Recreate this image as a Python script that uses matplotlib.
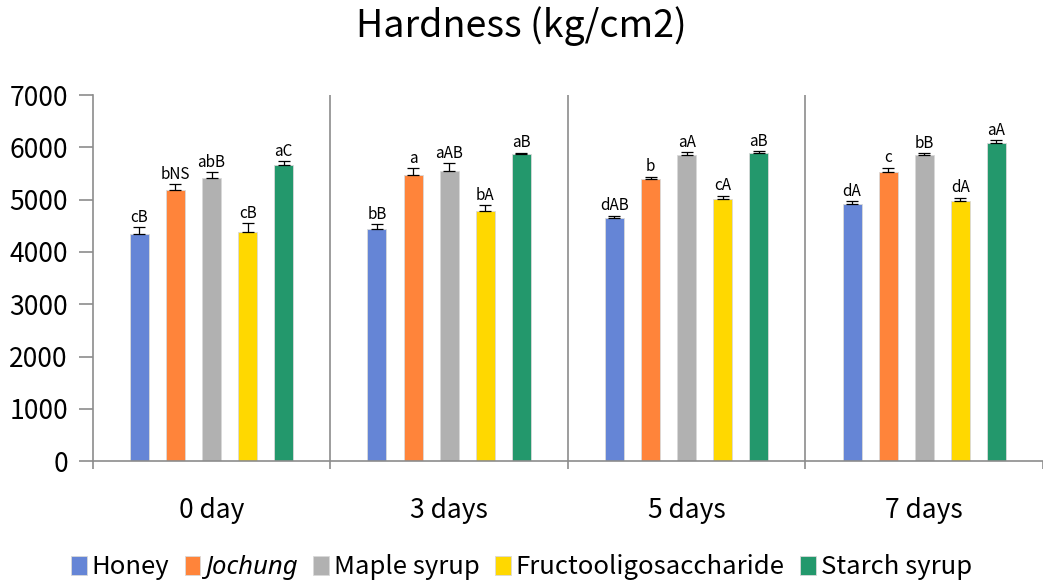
import matplotlib.pyplot as plt
import numpy as np

plt.rcParams["font.family"] = ["Noto Sans CJK KR", "DejaVu Sans"]

DAYS = ["0 day", "3 days", "5 days", "7 days"]
SERIES = ["Honey", "Jochung", "Maple syrup", "Fructooligosaccharide", "Starch syrup"]
COLORS = ["#6585D6", "#FF843A", "#B1B1B1", "#FFD800", "#23986C"]

# hardness values per series, across the four days
HONEY = [4335, 4443, 4641, 4909]
JOCHUNG = [5190, 5469, 5387, 5527]
MAPLE = [5412, 5546, 5858, 5846]
FOS = [4386, 4781, 5004, 4972]
STARCH = [5661, 5865, 5897, 6076]

HONEY_ERR = [133, 83, 50, 64]
JOCHUNG_ERR = [100, 127, 50, 83]
MAPLE_ERR = [120, 146, 45, 38]
FOS_ERR = [160, 108, 70, 64]
STARCH_ERR = [70, 32, 32, 57]

HONEY_LBL = ["cB", "bB", "dAB", "dA"]
JOCHUNG_LBL = ["bNS", "a", "b", "c"]
MAPLE_LBL = ["abB", "aAB", "aA", "bB"]
FOS_LBL = ["cB", "bA", "cA", "dA"]
STARCH_LBL = ["aC", "aB", "aB", "aA"]

values = [HONEY, JOCHUNG, MAPLE, FOS, STARCH]
errors = [HONEY_ERR, JOCHUNG_ERR, MAPLE_ERR, FOS_ERR, STARCH_ERR]
labels = [HONEY_LBL, JOCHUNG_LBL, MAPLE_LBL, FOS_LBL, STARCH_LBL]

fig = plt.figure(figsize=(10.43, 5.83), dpi=100)
ax = fig.add_axes([0.089, 0.209, 0.911, 0.628])

x = np.arange(len(DAYS))
width = 0.08
step = 0.152
grey = "#8C8C8C"

for i, (name, vals, errs, lbls, col) in enumerate(
    zip(SERIES, values, errors, labels, COLORS)
):
    pos = x + (i - 2) * step
    ax.bar(pos, vals, width, color=col, edgecolor="#D9D9D9", linewidth=0.6,
           label=name, zorder=2)
    ax.errorbar(pos, vals, yerr=[np.zeros(len(vals)), errs], fmt="none",
                ecolor="black", elinewidth=0.9, capsize=4.5, capthick=0.9, zorder=3)
    for p, v, e, t in zip(pos, vals, errs, lbls):
        ax.text(p, v + e + 25, t, ha="center", va="bottom", fontsize=11)

# group dividers
for b in x[1:] - 0.5:
    ax.axvline(b, color=grey, linewidth=1.2, zorder=1)

ax.set_xlim(-0.5, len(DAYS) - 0.5)
ax.set_ylim(0, 7000)
ax.set_yticks(np.arange(0, 7001, 1000))
ax.set_xticks(x)
ax.set_xticklabels(DAYS, fontsize=19)
ax.set_xticks(np.arange(-0.5, len(DAYS) - 0.4, 1.0), minor=True)
ax.tick_params(axis="x", which="major", length=0, pad=26)
ax.tick_params(axis="x", which="minor", length=6, color=grey, width=1.2)
ax.tick_params(axis="y", labelsize=19, length=10, color=grey, width=1.2, pad=8)

for s in ["top", "right"]:
    ax.spines[s].set_visible(False)
for s in ["left", "bottom"]:
    ax.spines[s].set_color(grey)
    ax.spines[s].set_linewidth(1.2)

fig.text(0.5, 0.955, "Hardness (kg/cm2)", ha="center", va="center", fontsize=27)

leg = fig.legend(loc="center", bbox_to_anchor=(0.5, 0.027), ncol=5, frameon=False,
                 fontsize=18.5, handlelength=0.6, handleheight=0.8, handletextpad=0.2,
                 columnspacing=0.6)
# Jochung is written in italics
leg.get_texts()[1].set_fontfamily("Noto Sans")
leg.get_texts()[1].set_fontstyle("italic")

fig.savefig("out.png", dpi=100)
